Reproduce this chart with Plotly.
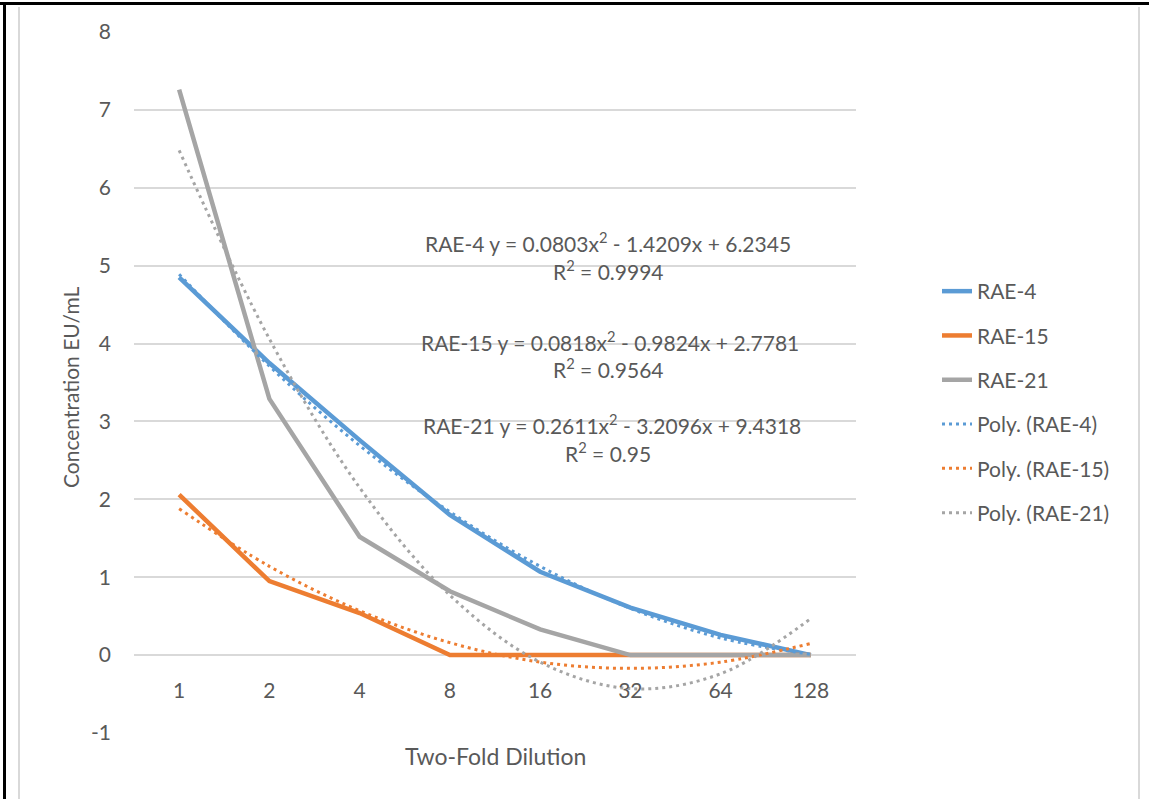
import plotly.graph_objects as go

# ---- data ----
categories = ["1", "2", "4", "8", "16", "32", "64", "128"]
rae4 = [4.85, 3.75, 2.76, 1.80, 1.07, 0.61, 0.26, 0.0]
rae15 = [2.06, 0.95, 0.54, 0.0, 0.0, 0.0, 0.0, 0.0]
rae21 = [7.26, 3.29, 1.52, 0.82, 0.33, 0.0, 0.0, 0.0]
# polynomial trendline values at each category
poly4 = [4.89, 3.71, 2.69, 1.84, 1.14, 0.60, 0.22, 0.01]
poly15 = [1.88, 1.14, 0.57, 0.16, -0.09, -0.17, -0.09, 0.15]
poly21 = [6.48, 4.06, 2.15, 0.77, -0.09, -0.43, -0.24, 0.47]
y_ticks = [-1, 0, 1, 2, 3, 4, 5, 6, 7, 8]
y_ticktext = ["-1", "0", "1", "2", "3", "4", "5", "6", "7", "8"]
eq_texts = [
    ("RAE-4 y = 0.0803x<sup>2</sup> - 1.4209x + 6.2345", "R<sup>2</sup> = 0.9994"),
    ("RAE-15 y = 0.0818x<sup>2</sup> - 0.9824x + 2.7781", "R<sup>2</sup> = 0.9564"),
    ("RAE-21 y = 0.2611x<sup>2</sup> - 3.2096x + 9.4318", "R<sup>2</sup> = 0.95"),
]

BLUE, ORANGE, GRAY = "#5B9BD5", "#ED7D31", "#A5A5A5"
TXT = "#595959"
FONT = "Lato"
FS = 21

W, H = 1149, 799
L, R, T, B = 134, 856, 32, 733


def px(x):
    return (x - L) / (R - L)


def py(y):
    return (B - y) / (B - T)


xs = list(range(1, len(categories) + 1))

fig = go.Figure()
for name, vals, col, grp in [("RAE-4", rae4, BLUE, "a"), ("RAE-15", rae15, ORANGE, "b"),
                             ("RAE-21", rae21, GRAY, "c")]:
    fig.add_trace(go.Scatter(x=xs, y=vals, mode="lines", name=name, legendgroup=grp,
                             line=dict(color=col, width=4.5)))
for name, vals, col, grp in [("Poly. (RAE-4)", poly4, BLUE, "d"),
                             ("Poly. (RAE-15)", poly15, ORANGE, "e"),
                             ("Poly. (RAE-21)", poly21, GRAY, "f")]:
    fig.add_trace(go.Scatter(x=xs, y=vals, mode="lines", name=name, legendgroup=grp,
                             line=dict(color=col, width=3, dash="3px,4px", shape="spline",
                                       smoothing=1.0)))

annotations = []
eq_pos = [(608, 242, 270), (610, 341, 368), (612, 424, 452)]
for (t1, t2), (cx, y1, y2) in zip(eq_texts, eq_pos):
    annotations.append(dict(x=px(cx), y=py(y1), xref="paper", yref="paper", text=t1,
                            xanchor="center", yanchor="middle", showarrow=False,
                            font=dict(family=FONT, size=FS, color=TXT)))
    annotations.append(dict(x=px(608), y=py(y2), xref="paper", yref="paper", text=t2,
                            xanchor="center", yanchor="middle", showarrow=False,
                            font=dict(family=FONT, size=FS, color=TXT)))
annotations.append(dict(x=px(70), y=py(388), xref="paper", yref="paper",
                        text="Concentration EU/mL", textangle=-90, showarrow=False,
                        xanchor="center", yanchor="middle",
                        font=dict(family=FONT, size=FS, color=TXT)))
annotations.append(dict(x=px(495), y=py(756), xref="paper", yref="paper",
                        text="Two-Fold Dilution", showarrow=False,
                        xanchor="center", yanchor="middle",
                        font=dict(family=FONT, size=23, color=TXT)))

shapes = [
    dict(type="line", xref="paper", yref="paper", x0=px(0), x1=px(W), y0=py(3.5), y1=py(3.5),
         line=dict(color="black", width=3)),
    dict(type="line", xref="paper", yref="paper", x0=px(4.5), x1=px(4.5), y0=py(3), y1=py(H),
         line=dict(color="black", width=3)),
    dict(type="line", xref="paper", yref="paper", x0=px(19), x1=px(19), y0=py(7), y1=py(H),
         line=dict(color="#D9D9D9", width=2)),
    dict(type="line", xref="paper", yref="paper", x0=px(1139), x1=px(1139), y0=py(7), y1=py(H),
         line=dict(color="#D9D9D9", width=2)),
]

fig.update_layout(
    width=W, height=H,
    margin=dict(l=L, r=W - R, t=T, b=H - B),
    paper_bgcolor="white", plot_bgcolor="white",
    font=dict(family=FONT, size=FS, color=TXT),
    showlegend=True,
    legend=dict(x=px(937), y=py(271), xanchor="left", yanchor="top",
                font=dict(family=FONT, size=FS, color=TXT), tracegroupgap=14,
                bgcolor="rgba(0,0,0,0)"),
    annotations=annotations,
    shapes=shapes,
    xaxis=dict(range=[0.5, len(categories) + 0.5], tickmode="array", tickvals=xs,
               ticktext=categories, showgrid=False, zeroline=False, showline=False,
               ticks="", anchor="free", position=py(655), ticklabelstandoff=21,
               tickfont=dict(family=FONT, size=FS, color=TXT)),
    yaxis=dict(range=[-1, 8], tickmode="array", tickvals=y_ticks, ticktext=y_ticktext,
               showgrid=True, gridcolor="#D9D9D9",
               gridwidth=1.5, zeroline=False, showline=False, ticks="",
               ticklabelstandoff=22, tickfont=dict(family=FONT, size=FS, color=TXT)),
)

fig.write_html("out.html")
